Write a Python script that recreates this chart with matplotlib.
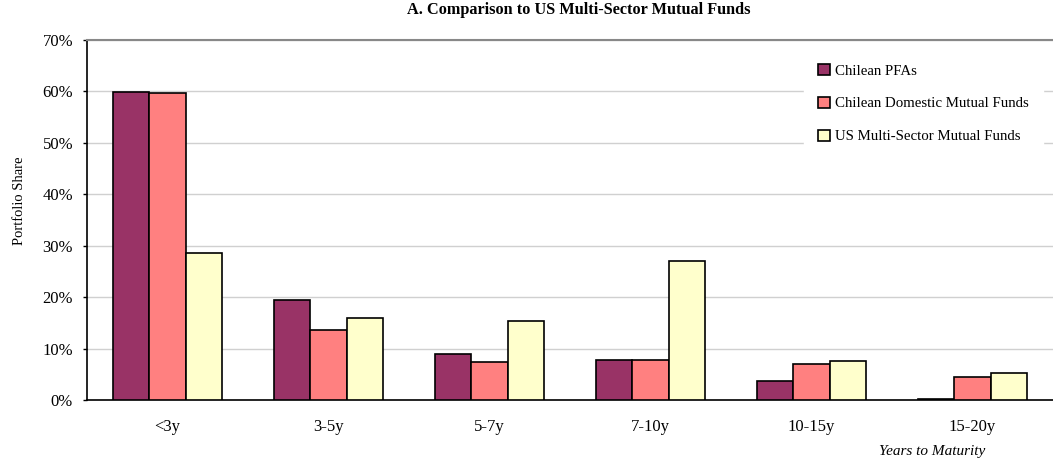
import numpy as np
import matplotlib.pyplot as plt
from matplotlib.ticker import PercentFormatter

plt.rcParams['font.family'] = ['Liberation Serif', 'DejaVu Serif']

categories = ['<3y', '3-5y', '5-7y', '7-10y', '10-15y', '15-20y']
chilean_pfas = [59.9, 19.4, 8.9, 7.8, 3.7, 0.2]
chilean_mutual = [59.7, 13.6, 7.4, 7.8, 7.0, 4.5]
us_multisector = [28.6, 15.9, 15.4, 27.0, 7.6, 5.3]

series = [
    ('Chilean PFAs', chilean_pfas, '#993366'),
    ('Chilean Domestic Mutual Funds', chilean_mutual, '#FF8080'),
    ('US Multi-Sector Mutual Funds', us_multisector, '#FFFFCC'),
]

fig = plt.figure(figsize=(10.53, 4.61), dpi=100)
ax = fig.add_axes([0.0826, 0.1323, 0.9174, 0.7809])

x = np.arange(len(categories))
w = 0.224
for i, (name, vals, col) in enumerate(series):
    ax.bar(x + (i - 1) * w, vals, w, color=col, edgecolor='black', linewidth=1.2,
           label=name, zorder=3)

ax.set_xlim(-0.5, len(categories) - 0.5)
ax.set_ylim(0, 70)
ax.set_yticks(range(0, 71, 10))
ax.yaxis.set_major_formatter(PercentFormatter(decimals=0))
ax.set_xticks(x)
ax.set_xticklabels(categories)
ax.tick_params(axis='x', length=0, pad=14, labelsize=12)
ax.tick_params(axis='y', length=3, width=1, direction='out', labelsize=12, pad=7)

ax.grid(axis='y', color='#d0d0d0', linewidth=1, zorder=0)
ax.spines['right'].set_visible(False)
ax.spines['top'].set_color('#888888')
ax.spines['top'].set_linewidth(1.5)
ax.spines['left'].set_linewidth(1.2)
ax.spines['bottom'].set_linewidth(1.2)

ax.set_ylabel('Portfolio Share', fontsize=10.5)
ax.yaxis.set_label_coords(-0.063, 0.553)
fig.text(0.55, 0.978, 'A. Comparison to US Multi-Sector Mutual Funds', fontsize=11.7,
         fontweight='bold', ha='center', va='center')
ax.text(0.875, -0.125, 'Years to Maturity', transform=ax.transAxes, fontsize=11,
        style='italic', ha='center', va='top')

leg = ax.legend(loc='upper right', bbox_to_anchor=(0.99, 0.975), frameon=True,
                fontsize=10.7, labelspacing=1.3, handlelength=0.75, handleheight=0.75,
                handletextpad=0.35, borderpad=1.0, borderaxespad=0)
leg.get_frame().set_edgecolor('white')
leg.get_frame().set_facecolor('white')
leg.get_frame().set_alpha(1)
leg.set_zorder(5)

fig.savefig('out.png', dpi=100)
